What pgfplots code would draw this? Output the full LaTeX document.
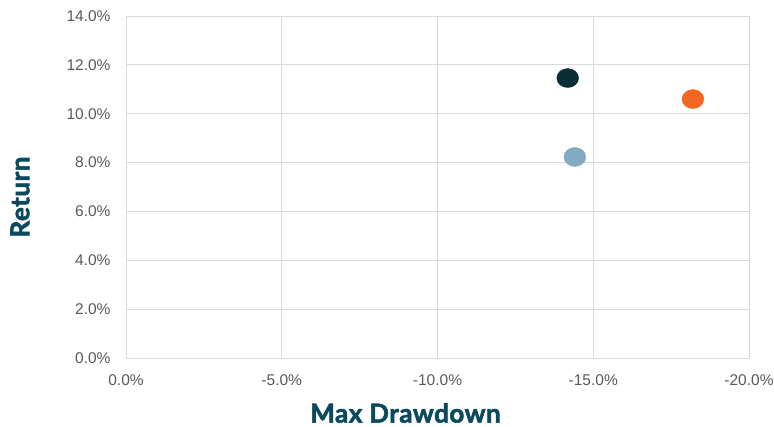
\documentclass[border=0pt]{standalone}
\usepackage{fontspec}
\setmainfont{Liberation Sans}
\newfontfamily\titlefont[BoldFeatures={FakeBold=2.2}, LetterSpace=2]{Lato}
\usepackage{pgfplots}
\pgfplotsset{compat=1.18}
\definecolor{gridgray}{HTML}{D9D9D9}
\definecolor{ticktext}{HTML}{595959}
\definecolor{titlecol}{HTML}{0B4A5E}
\definecolor{darkpt}{HTML}{0A2E36}
\definecolor{orangept}{HTML}{F26522}
\definecolor{bluept}{HTML}{82AAC2}
\begin{document}
\begin{tikzpicture}
\begin{axis}[
  scale only axis,
  width=623bp, height=342bp,
  x dir=reverse,
  xmin=-20, xmax=0, ymin=0, ymax=14,
  xtick={0,-5,-10,-15,-20},
  xticklabels={0.0\%,-5.0\%,-10.0\%,-15.0\%,-20.0\%},
  ytick={0,2,4,6,8,10,12,14},
  yticklabels={0.0\%,2.0\%,4.0\%,6.0\%,8.0\%,10.0\%,12.0\%,14.0\%},
  grid=major,
  major grid style={gridgray, line width=0.9bp},
  axis line style={draw=none},
  tick style={draw=none},
  ticklabel style={font=\fontsize{15.5bp}{18bp}\selectfont, text=ticktext},
  xticklabel style={yshift=-13bp},
  yticklabel style={xshift=-12bp},
  xlabel={Max Drawdown},
  ylabel={Return},
  label style={font=\titlefont\bfseries\fontsize{26bp}{28bp}\selectfont, text=titlecol},
  xlabel style={at={(axis description cs:0.5,0)}, anchor=center, yshift=-55bp, xshift=-32bp},
  ylabel style={at={(axis description cs:0,0.5)}, anchor=center, yshift=106bp, xshift=-10bp},
  clip=false,
]
\addplot[only marks, mark=*, mark size=9.5bp, mark options={xscale=1.15, draw=darkpt, fill=darkpt}] coordinates {(-14.18,11.46)};
\addplot[only marks, mark=*, mark size=9.5bp, mark options={xscale=1.15, draw=orangept, fill=orangept}] coordinates {(-18.2,10.6)};
\addplot[only marks, mark=*, mark size=9.5bp, mark options={xscale=1.15, draw=bluept, fill=bluept}] coordinates {(-14.41,8.23)};
\end{axis}
\pgfresetboundingbox
\useasboundingbox (-126bp,-69bp) rectangle (648bp,358bp);
\end{tikzpicture}
\end{document}
